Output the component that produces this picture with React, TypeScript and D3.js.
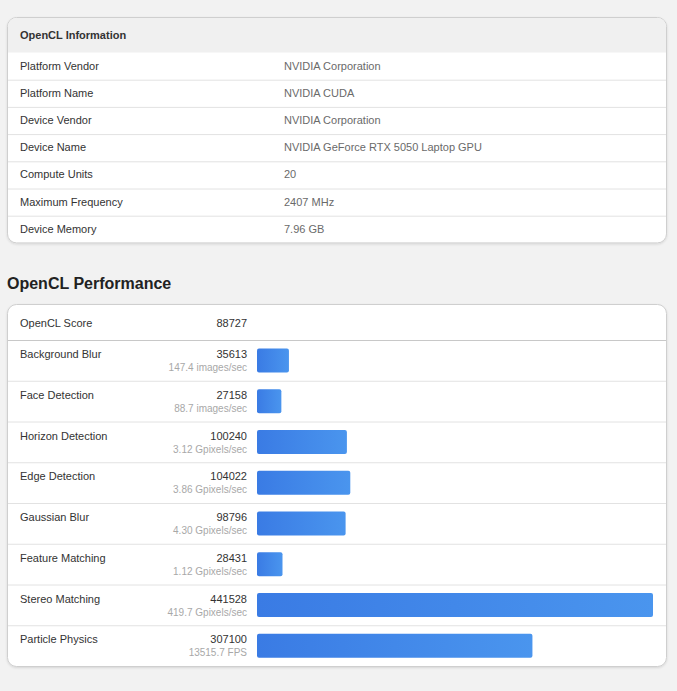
import React, { useEffect, useRef } from 'react';
import * as d3 from 'd3';

const infoLabels = ['Platform Vendor', 'Platform Name', 'Device Vendor', 'Device Name', 'Compute Units', 'Maximum Frequency', 'Device Memory'];
const infoValues = ['NVIDIA Corporation', 'NVIDIA CUDA', 'NVIDIA Corporation', 'NVIDIA GeForce RTX 5050 Laptop GPU', '20', '2407 MHz', '7.96 GB'];

const overallScore = 88727;
const benchNames = ['Background Blur', 'Face Detection', 'Horizon Detection', 'Edge Detection', 'Gaussian Blur', 'Feature Matching', 'Stereo Matching', 'Particle Physics'];
const benchScores = [35613, 27158, 100240, 104022, 98796, 28431, 441528, 307100];
const benchRates = ['147.4 images/sec', '88.7 images/sec', '3.12 Gpixels/sec', '3.86 Gpixels/sec', '4.30 Gpixels/sec', '1.12 Gpixels/sec', '419.7 Gpixels/sec', '13515.7 FPS'];

const W = 677;
const H = 691;
const FONT = '"Liberation Sans", Arial, sans-serif';

const App: React.FC = () => {
  const svgRef = useRef<SVGSVGElement>(null);

  useEffect(() => {
    document.body.style.margin = '0';
    const svg = d3.select(svgRef.current);
    svg.selectAll('*').remove();

    svg.append('rect').attr('width', W).attr('height', H).attr('fill', '#f2f2f2');

    const defs = svg.append('defs');
    const grad = defs.append('linearGradient').attr('id', 'barGrad').attr('x1', '0%').attr('x2', '100%');
    grad.append('stop').attr('offset', '0%').attr('stop-color', '#3a7be4');
    grad.append('stop').attr('offset', '100%').attr('stop-color', '#4a95ee');

    const shadow = defs.append('filter').attr('id', 'sh').attr('x', '-5%').attr('y', '-5%').attr('width', '110%').attr('height', '110%');
    shadow.append('feDropShadow').attr('dx', 0).attr('dy', 1).attr('stdDeviation', 0.8).attr('flood-color', '#000').attr('flood-opacity', 0.12);

    const cardX = 7.5;
    const cardW = 659;

    // ---- info card
    const infoTop = 17.5;
    const headH = 35;
    const rowH = 27.2;
    const infoH = headH + rowH * infoLabels.length;

    svg.append('rect')
      .attr('x', cardX).attr('y', infoTop).attr('width', cardW).attr('height', infoH)
      .attr('rx', 9).attr('fill', '#fff').attr('stroke', '#cfcfcf').attr('filter', 'url(#sh)');

    const clipInfo = defs.append('clipPath').attr('id', 'clipInfo');
    clipInfo.append('rect').attr('x', cardX + 0.5).attr('y', infoTop + 0.5).attr('width', cardW - 1).attr('height', infoH - 1).attr('rx', 8.5);

    svg.append('rect')
      .attr('x', cardX).attr('y', infoTop).attr('width', cardW).attr('height', headH)
      .attr('fill', '#f0f0f0').attr('clip-path', 'url(#clipInfo)');

    svg.append('text')
      .attr('x', 20).attr('y', infoTop + headH / 2 + 4)
      .attr('font-family', FONT).attr('font-size', 11).attr('font-weight', 'bold').attr('fill', '#333')
      .text('OpenCL Information');

    const yInfo = d3.scaleBand<number>().domain(d3.range(infoLabels.length)).range([infoTop + headH, infoTop + infoH]);

    const rows = svg.append('g').selectAll('g').data(infoLabels).join('g')
      .attr('transform', (_, i) => `translate(0,${yInfo(i)})`);

    rows.filter((_, i) => i > 0).append('line')
      .attr('x1', cardX + 0.5).attr('x2', cardX + cardW - 0.5).attr('y1', 0.5).attr('y2', 0.5)
      .attr('stroke', '#e2e2e2');

    rows.append('text')
      .attr('x', 20).attr('y', rowH / 2 + 3.5)
      .attr('font-family', FONT).attr('font-size', 11).attr('fill', '#333')
      .text(d => d);

    rows.append('text')
      .attr('x', 284).attr('y', rowH / 2 + 3.5)
      .attr('font-family', FONT).attr('font-size', 11).attr('fill', '#6a6a6a')
      .text((_, i) => infoValues[i]);

    // ---- performance title
    svg.append('text')
      .attr('x', 7).attr('y', 289)
      .attr('font-family', FONT).attr('font-size', 16).attr('font-weight', 'bold').attr('fill', '#222')
      .text('OpenCL Performance');

    // ---- performance card
    const perfTop = 304.5;
    const scoreH = 36;
    const benchH = 40.75;
    const perfH = scoreH + benchH * benchNames.length;

    svg.append('rect')
      .attr('x', cardX).attr('y', perfTop).attr('width', cardW).attr('height', perfH)
      .attr('rx', 9).attr('fill', '#fff').attr('stroke', '#cfcfcf').attr('filter', 'url(#sh)');

    svg.append('text')
      .attr('x', 20).attr('y', perfTop + scoreH / 2 + 4)
      .attr('font-family', FONT).attr('font-size', 11).attr('fill', '#333')
      .text('OpenCL Score');
    svg.append('text')
      .attr('x', 247).attr('y', perfTop + scoreH / 2 + 4).attr('text-anchor', 'end')
      .attr('font-family', FONT).attr('font-size', 11).attr('fill', '#333')
      .text(overallScore);

    const yBench = d3.scaleBand<number>().domain(d3.range(benchNames.length)).range([perfTop + scoreH, perfTop + perfH]);
    const x = d3.scaleLinear().domain([0, d3.max(benchScores)!]).range([0, 396]);

    const bench = svg.append('g').selectAll('g').data(benchNames).join('g')
      .attr('transform', (_, i) => `translate(0,${yBench(i)})`);

    bench.append('line')
      .attr('x1', cardX + 0.5).attr('x2', cardX + cardW - 0.5).attr('y1', 0).attr('y2', 0)
      .attr('stroke', (_, i) => (i === 0 ? '#c8c8c8' : '#e2e2e2'));

    bench.append('text')
      .attr('x', 20).attr('y', 17.5)
      .attr('font-family', FONT).attr('font-size', 11).attr('fill', '#333')
      .text(d => d);

    bench.append('text')
      .attr('x', 247).attr('y', 17.5).attr('text-anchor', 'end')
      .attr('font-family', FONT).attr('font-size', 11).attr('fill', '#333')
      .text((_, i) => benchScores[i]);

    bench.append('text')
      .attr('x', 247).attr('y', 30.5).attr('text-anchor', 'end')
      .attr('font-family', FONT).attr('font-size', 10).attr('fill', '#a8a8a8')
      .text((_, i) => benchRates[i]);

    bench.append('rect')
      .attr('x', 257).attr('y', 8)
      .attr('width', (_, i) => x(benchScores[i]))
      .attr('height', 24)
      .attr('rx', 2)
      .attr('fill', 'url(#barGrad)');
  }, []);

  return <svg ref={svgRef} width={W} height={H} style={{ display: 'block' }} />;
};

export default App;
